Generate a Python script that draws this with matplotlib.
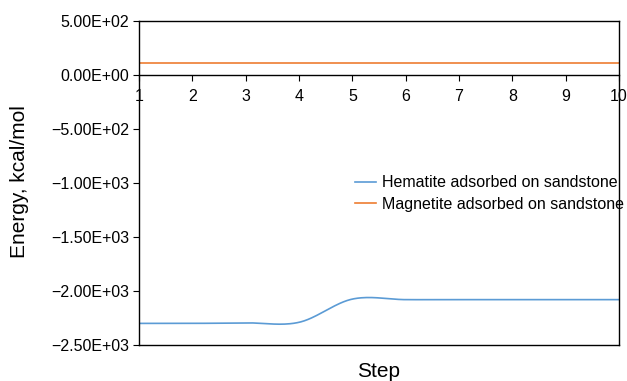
import numpy as np
import matplotlib
matplotlib.use("Agg")
import matplotlib.pyplot as plt
from matplotlib.ticker import FuncFormatter

steps = [1, 2, 3, 4, 5, 6, 7, 8, 9, 10]
hematite = [-2300, -2300, -2295, -2290, -2075, -2080, -2080, -2080, -2080, -2080]
magnetite = [110, 110, 110, 110, 110, 110, 110, 110, 110, 110]
labels = ["Hematite adsorbed on sandstone", "Magnetite adsorbed on sandstone"]
yticks = [500, 0, -500, -1000, -1500, -2000, -2500]


def smooth(x, y, n=30):
    # Catmull-Rom smoothing like spreadsheet "smoothed line"
    x = np.asarray(x, float); y = np.asarray(y, float)
    px = np.concatenate([[2 * x[0] - x[1]], x, [2 * x[-1] - x[-2]]])
    py = np.concatenate([[2 * y[0] - y[1]], y, [2 * y[-1] - y[-2]]])
    xs, ys = [], []
    t = np.linspace(0, 1, n, endpoint=False)
    for i in range(1, len(px) - 2):
        for arr, out in ((px, xs), (py, ys)):
            p0, p1, p2, p3 = arr[i - 1], arr[i], arr[i + 1], arr[i + 2]
            out.extend(0.5 * ((2 * p1) + (-p0 + p2) * t + (2 * p0 - 5 * p1 + 4 * p2 - p3) * t ** 2
                              + (-p0 + 3 * p1 - 3 * p2 + p3) * t ** 3))
    xs.append(x[-1]); ys.append(y[-1])
    return np.array(xs), np.array(ys)


plt.rcParams['font.family'] = ['Liberation Sans', 'DejaVu Sans']
plt.rcParams['font.size'] = 11.5

fig = plt.figure(figsize=(6.27, 3.81), dpi=100)
ax = fig.add_axes([0.2217, 0.0945, 0.7655, 0.8504])

hx, hy = smooth(steps, hematite)
mx, my = smooth(steps, magnetite)
ax.plot(hx, hy, color="#5B9BD5", lw=1.2, label=labels[0])
ax.plot(mx, my, color="#ED7D31", lw=1.2, label=labels[1])

ax.set_xlim(1, 10)
ax.set_ylim(-2500, 500)
ax.set_xticks(steps)
ax.set_yticks(yticks)


def fmt(v, pos):
    s = "%.2E" % v
    return s.replace("-", "\u2212", 1) if v < 0 else s


ax.yaxis.set_major_formatter(FuncFormatter(fmt))
ax.spines['bottom'].set_position(('data', 0))
for s in ax.spines.values():
    s.set_linewidth(1.0)
ax.axhline(-2500, color="black", lw=1.0, clip_on=False)
ax.tick_params(axis='x', direction='out', length=4, pad=6, labelsize=11.5)
ax.tick_params(axis='y', direction='out', length=4, pad=3, labelsize=11.5)

fig.text(20 / 627, 1 - 182 / 381, "Energy, kcal/mol", rotation=90,
         ha='center', va='center', fontsize=15)
fig.text(379 / 627, 1 - 377 / 381, "Step", ha='center', va='baseline', fontsize=15)

ax.legend(loc='center left', bbox_to_anchor=(0.45, 0.4676), frameon=False,
          borderpad=0, borderaxespad=0, handlelength=1.3, handletextpad=0.4,
          labelspacing=0.4, fontsize=11.5)

fig.savefig("out.png", dpi=100)
